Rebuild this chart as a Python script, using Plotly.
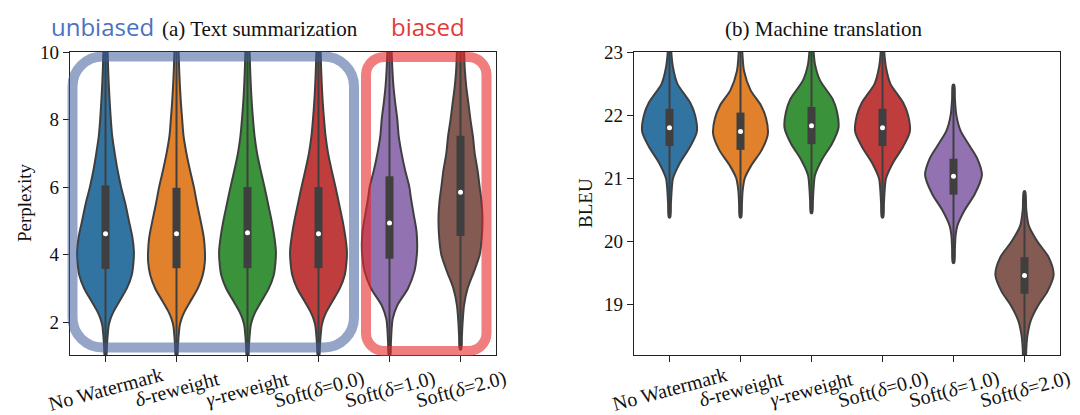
import plotly.graph_objects as go

# ---------------- data ----------------
categories = ["No Watermark", "<i>δ</i>-reweight", "<i>γ</i>-reweight",
              "Soft(<i>δ</i>=0.0)", "Soft(<i>δ</i>=1.0)", "Soft(<i>δ</i>=2.0)"]
colors = ["#3274a1", "#e1812c", "#3a923a", "#c03d3e", "#9372b2", "#845b53"]

# (a) Text summarization: perplexity density outlines (level, half-width in category units)
ppl_levels = [
    [1.0, 1.3, 1.6, 1.9, 2.1, 2.3, 2.6, 3.0, 3.4, 3.8, 4.1, 4.5, 5.0, 5.5, 6.0, 6.5, 7.0, 7.5, 8.0, 8.5, 9.0, 9.5, 10.0, 10.5],
    [1.0, 1.3, 1.6, 1.9, 2.1, 2.3, 2.6, 3.0, 3.4, 3.8, 4.1, 4.5, 5.0, 5.5, 6.0, 6.5, 7.0, 7.5, 8.0, 8.5, 9.0, 9.5, 10.0, 10.5],
    [1.0, 1.3, 1.6, 1.9, 2.1, 2.3, 2.6, 3.0, 3.4, 3.8, 4.1, 4.5, 5.0, 5.5, 6.0, 6.5, 7.0, 7.5, 8.0, 8.5, 9.0, 9.5, 10.0, 10.5],
    [1.0, 1.3, 1.6, 1.9, 2.1, 2.3, 2.6, 3.0, 3.4, 3.8, 4.1, 4.5, 5.0, 5.5, 6.0, 6.5, 7.0, 7.5, 8.0, 8.5, 9.0, 9.5, 10.0, 10.5],
    [1.0, 1.4, 1.8, 2.1, 2.5, 3.0, 3.5, 4.0, 4.3, 4.7, 5.2, 5.7, 6.0, 6.5, 7.0, 7.5, 8.0, 8.5, 9.0, 9.5, 10.0, 10.5],
    [1.2, 1.6, 2.0, 2.5, 3.0, 3.5, 4.0, 4.5, 5.1, 5.6, 6.0, 6.5, 7.0, 7.5, 8.0, 8.5, 9.0, 9.5, 10.0, 10.5],
]
ppl_density = [
    [0.01, 0.02, 0.03, 0.045, 0.07, 0.11, 0.19, 0.30, 0.37, 0.395, 0.40, 0.38, 0.33, 0.28, 0.22, 0.17, 0.13, 0.095, 0.075, 0.06, 0.047, 0.037, 0.03, 0.02],
    [0.01, 0.02, 0.03, 0.045, 0.07, 0.11, 0.19, 0.30, 0.37, 0.40, 0.40, 0.385, 0.34, 0.29, 0.245, 0.19, 0.14, 0.10, 0.08, 0.062, 0.048, 0.037, 0.03, 0.02],
    [0.01, 0.02, 0.03, 0.045, 0.07, 0.11, 0.19, 0.30, 0.37, 0.395, 0.40, 0.38, 0.34, 0.29, 0.24, 0.185, 0.135, 0.10, 0.078, 0.06, 0.047, 0.037, 0.03, 0.02],
    [0.01, 0.02, 0.03, 0.045, 0.07, 0.11, 0.19, 0.30, 0.37, 0.395, 0.40, 0.38, 0.34, 0.29, 0.24, 0.185, 0.135, 0.10, 0.078, 0.06, 0.047, 0.037, 0.03, 0.02],
    [0.01, 0.02, 0.03, 0.045, 0.11, 0.26, 0.35, 0.385, 0.39, 0.38, 0.34, 0.30, 0.28, 0.22, 0.17, 0.13, 0.11, 0.08, 0.055, 0.04, 0.03, 0.02],
    [0.01, 0.02, 0.03, 0.05, 0.10, 0.19, 0.27, 0.30, 0.31, 0.295, 0.27, 0.24, 0.20, 0.175, 0.14, 0.11, 0.08, 0.06, 0.05, 0.035],
]
ppl_q1 = [3.58, 3.60, 3.60, 3.60, 3.88, 4.55]
ppl_median = [4.62, 4.62, 4.65, 4.62, 4.94, 5.85]
ppl_q3 = [6.05, 5.98, 6.00, 6.00, 6.32, 7.52]

# (b) Machine translation: BLEU density outlines
bleu_levels = [
    [20.38, 20.6, 20.8, 21.0, 21.25, 21.5, 21.74, 22.0, 22.2, 22.5, 22.75, 23.0, 23.3],
    [20.38, 20.6, 20.8, 21.0, 21.2, 21.45, 21.7, 21.95, 22.15, 22.4, 22.7, 23.0, 23.3],
    [20.45, 20.65, 20.85, 21.05, 21.3, 21.55, 21.8, 22.05, 22.25, 22.55, 22.8, 23.0, 23.3],
    [20.38, 20.6, 20.8, 21.0, 21.25, 21.5, 21.74, 22.0, 22.2, 22.5, 22.75, 23.0, 23.3],
    [19.66, 19.9, 20.1, 20.25, 20.5, 20.75, 21.05, 21.3, 21.5, 21.75, 22.0, 22.25, 22.48],
    [18.0, 18.3, 18.5, 18.75, 19.0, 19.2, 19.47, 19.75, 20.0, 20.25, 20.5, 20.79],
]
bleu_density = [
    [0.01, 0.02, 0.03, 0.05, 0.15, 0.29, 0.385, 0.36, 0.29, 0.11, 0.05, 0.025, 0.015],
    [0.01, 0.02, 0.03, 0.06, 0.15, 0.30, 0.385, 0.36, 0.29, 0.14, 0.05, 0.025, 0.015],
    [0.01, 0.02, 0.03, 0.05, 0.15, 0.29, 0.38, 0.36, 0.30, 0.12, 0.05, 0.03, 0.015],
    [0.01, 0.02, 0.03, 0.05, 0.15, 0.29, 0.385, 0.36, 0.29, 0.11, 0.05, 0.025, 0.015],
    [0.01, 0.02, 0.03, 0.055, 0.16, 0.30, 0.40, 0.34, 0.235, 0.10, 0.04, 0.02, 0.01],
    [0.01, 0.025, 0.04, 0.09, 0.20, 0.32, 0.41, 0.34, 0.18, 0.06, 0.025, 0.01],
]
bleu_q1 = [21.51, 21.45, 21.54, 21.51, 20.74, 19.17]
bleu_median = [21.80, 21.74, 21.83, 21.80, 21.03, 19.46]
bleu_q3 = [22.10, 22.04, 22.13, 22.10, 21.31, 19.75]

ppl_ticks = [2, 4, 6, 8, 10]
bleu_ticks = [19, 20, 21, 22, 23]

# ---------------- layout helpers ----------------
W, H = 1080, 415
ML, MR, MT, MB = 62, 28, 44, 68
PW, PH = W - ML - MR, H - MT - MB
EDGE = "#3f3f3f"
SERIF = "Liberation Serif"


def px_x(p):
    return (p - ML) / PW


def px_y(p):
    return (H - MB - p) / PH


fig = go.Figure()


def add_violins(xa, ya, levels, dens, q1s, meds, q3s):
    for i in range(len(categories)):
        ys, ws = levels[i], dens[i]
        xs = [i + w for w in ws] + [i - w for w in reversed(ws)]
        yy = list(ys) + list(reversed(ys))
        fig.add_trace(go.Scatter(
            x=xs + [xs[0]], y=yy + [yy[0]], xaxis=xa, yaxis=ya, mode="lines",
            fill="toself", fillcolor=colors[i],
            line=dict(color=EDGE, width=2, shape="spline", smoothing=0.8),
            hoverinfo="skip", showlegend=False))
        fig.add_trace(go.Scatter(
            x=[i, i], y=[min(ys), max(ys)], xaxis=xa, yaxis=ya, mode="lines",
            line=dict(color=EDGE, width=2), hoverinfo="skip", showlegend=False))
        fig.add_trace(go.Scatter(
            x=[i, i], y=[q1s[i], q3s[i]], xaxis=xa, yaxis=ya, mode="lines",
            line=dict(color=EDGE, width=8), hoverinfo="skip", showlegend=False))
        fig.add_trace(go.Scatter(
            x=[i], y=[meds[i]], xaxis=xa, yaxis=ya, mode="markers",
            marker=dict(color="white", size=5), hoverinfo="skip", showlegend=False))


add_violins("x", "y", ppl_levels, ppl_density, ppl_q1, ppl_median, ppl_q3)
add_violins("x2", "y2", bleu_levels, bleu_density, bleu_q1, bleu_median, bleu_q3)

axis_common = dict(showline=True, mirror=True, linecolor="#222", linewidth=1.3,
                   ticks="outside", ticklen=6, tickwidth=1.2, tickcolor="#222",
                   showgrid=False, zeroline=False,
                   tickfont=dict(family=SERIF, size=19, color="#111"))
left_dom = [0, px_x(488)]
right_dom = [px_x(626), 1]
fig.update_layout(
    width=W, height=H, margin=dict(l=ML, r=MR, t=MT, b=MB),
    plot_bgcolor="white", paper_bgcolor="white",
    xaxis=dict(axis_common, domain=left_dom, range=[-0.5, 5.5],
               tickvals=list(range(6)), showticklabels=False),
    yaxis=dict(axis_common, range=[1.03, 10], tickvals=ppl_ticks),
    xaxis2=dict(axis_common, domain=right_dom, range=[-0.5, 5.5], anchor="y2",
                tickvals=list(range(6)), showticklabels=False),
    yaxis2=dict(axis_common, range=[18.2, 23], tickvals=bleu_ticks, anchor="x2"),
)

ann = []
for xa, dom in (("x", left_dom), ("x2", right_dom)):
    for i, lab in enumerate(categories):
        ann.append(dict(text=lab, xref=xa, yref="paper", x=i, y=px_y(381),
                        xanchor="center", yanchor="middle", textangle=-15,
                        showarrow=False, font=dict(family=SERIF, size=20, color="#111")))
ann += [
    dict(text="(a) Text summarization", xref="paper", yref="paper", x=px_x(252), y=px_y(21),
         showarrow=False, xanchor="center", yanchor="middle", font=dict(family=SERIF, size=21, color="#111")),
    dict(text="(b) Machine translation", xref="paper", yref="paper", x=px_x(816), y=px_y(21),
         showarrow=False, xanchor="center", yanchor="middle", font=dict(family=SERIF, size=21, color="#111")),
    dict(text="Perplexity", xref="paper", yref="paper", x=px_x(16), y=px_y(195), textangle=-90,
         showarrow=False, xanchor="center", yanchor="middle", font=dict(family=SERIF, size=19, color="#111")),
    dict(text="BLEU", xref="paper", yref="paper", x=px_x(577), y=px_y(195), textangle=-90,
         showarrow=False, xanchor="center", yanchor="middle", font=dict(family=SERIF, size=19, color="#111")),
    dict(text="unbiased", xref="paper", yref="paper", x=px_x(94), y=px_y(1),
         showarrow=False, xanchor="center", yanchor="top", borderpad=0,
         font=dict(family="Open Sans", size=24, color="#4a72c4")),
    dict(text="biased", xref="paper", yref="paper", x=px_x(420), y=px_y(1),
         showarrow=False, xanchor="center", yanchor="top", borderpad=0,
         font=dict(family="Open Sans", size=24, color="#e23b36")),
]
fig.update_layout(annotations=ann)


def rounded_rect(x0, y0, x1, y1, r):
    # pixel coordinates (y down) -> paper path with cubic corners
    k = 0.5523 * r

    def P(x, y):
        return f"{px_x(x):.5f},{px_y(y):.5f}"
    d = (f"M {P(x0 + r, y0)} L {P(x1 - r, y0)} "
         f"C {P(x1 - r + k, y0)} {P(x1, y0 + r - k)} {P(x1, y0 + r)} "
         f"L {P(x1, y1 - r)} "
         f"C {P(x1, y1 - r + k)} {P(x1 - r + k, y1)} {P(x1 - r, y1)} "
         f"L {P(x0 + r, y1)} "
         f"C {P(x0 + r - k, y1)} {P(x0, y1 - r + k)} {P(x0, y1 - r)} "
         f"L {P(x0, y0 + r)} "
         f"C {P(x0, y0 + r - k)} {P(x0 + r - k, y0)} {P(x0 + r, y0)} Z")
    return d


fig.add_shape(type="path", xref="paper", yref="paper", layer="above",
              path=rounded_rect(64.5, 48.5, 346, 339.5, 30),
              line=dict(color="rgba(62,91,155,0.55)", width=10))
fig.add_shape(type="path", xref="paper", yref="paper", layer="above",
              path=rounded_rect(358, 49, 478.5, 343, 18),
              line=dict(color="rgba(230,40,40,0.6)", width=10))

fig.write_html("out.html")
